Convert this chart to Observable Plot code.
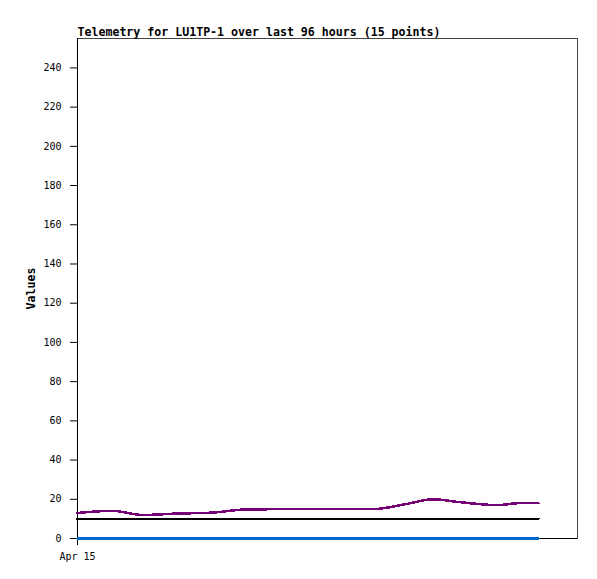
<!DOCTYPE html>
<html><head><meta charset="utf-8">
<script src="https://cdn.jsdelivr.net/npm/d3@7"></script>
<script src="https://cdn.jsdelivr.net/npm/@observablehq/plot@0.6"></script>
<style>body{margin:0;background:#fff}</style>
</head><body><div id="chart"></div>
<script>
const title = "Telemetry for LU1TP-1 over last 96 hours (15 points)";
const yLabel = "Values";
const startLabel = "Apr 15";
const yTicks = [0, 20, 40, 60, 80, 100, 120, 140, 160, 180, 200, 220, 240];
// hours since start of window
const hours = [0, 6.7, 12.5, 19, 25.9, 32.3, 40.9, 50.5, 56.8, 63, 68.2, 73.5, 80.8, 84.5, 88.5];
const purpleValues = [13, 14.1, 12, 12.7, 13.2, 14.8, 15, 15, 15, 17.5, 20, 18.5, 17, 18, 18];
const blackValues = [10, 10, 10, 10, 10, 10, 10, 10, 10, 10, 10, 10, 10, 10, 10];
const blueValues = [0, 0, 0, 0, 0, 0, 0, 0, 0, 0, 0, 0, 0, 0, 0];

const t0 = new Date(Date.UTC(2024, 3, 15, 0, 0));
const H = 3600 * 1000;
const t1 = new Date(t0.getTime() + 96 * H);
const mk = (vals) => hours.map((h, i) => ({t: new Date(t0.getTime() + h * H), v: vals[i]}));

const chart = Plot.plot({
  width: 597, height: 579,
  marginLeft: 77, marginRight: 20, marginTop: 38, marginBottom: 41,
  style: {fontFamily: "DejaVu Sans Mono", fontSize: "10px", background: "white", color: "black", overflow: "visible"},
  x: {type: "utc", domain: [t0, t1]},
  y: {domain: [0, 255]},
  marks: [
    Plot.frame({stroke: "#444"}),
    Plot.axisY({ticks: yTicks, tickSize: 7, tickPadding: 9, label: null, fontSize: 10}),
    Plot.axisX({ticks: [t0], tickFormat: () => startLabel, tickSize: 7, tickPadding: 7, label: null, fontSize: 10}),
    Plot.ruleX([t0], {stroke: "black"}),
    Plot.ruleY([0], {stroke: "black"}),
    Plot.line(mk(blueValues), {x: "t", y: "v", stroke: "#0066cc", strokeWidth: 2.5, shapeRendering: "crispEdges"}),
    Plot.line(mk(blackValues), {x: "t", y: "v", stroke: "black", strokeWidth: 2.5, shapeRendering: "crispEdges"}),
    Plot.line(mk(purpleValues), {x: "t", y: "v", stroke: "#770077", strokeWidth: 2.5, curve: "monotone-x", shapeRendering: "crispEdges"}),
    Plot.text([title], {frameAnchor: "top-left", dy: -3, textAnchor: "start", lineAnchor: "bottom", fontWeight: "bold", fontSize: 11.6}),
    Plot.text([yLabel], {frameAnchor: "left", dx: -46, rotate: -90, textAnchor: "middle", lineAnchor: "middle", fontWeight: "bold", fontSize: 11.6})
  ]
});
document.getElementById("chart").appendChild(chart);
</script>
</body></html>
